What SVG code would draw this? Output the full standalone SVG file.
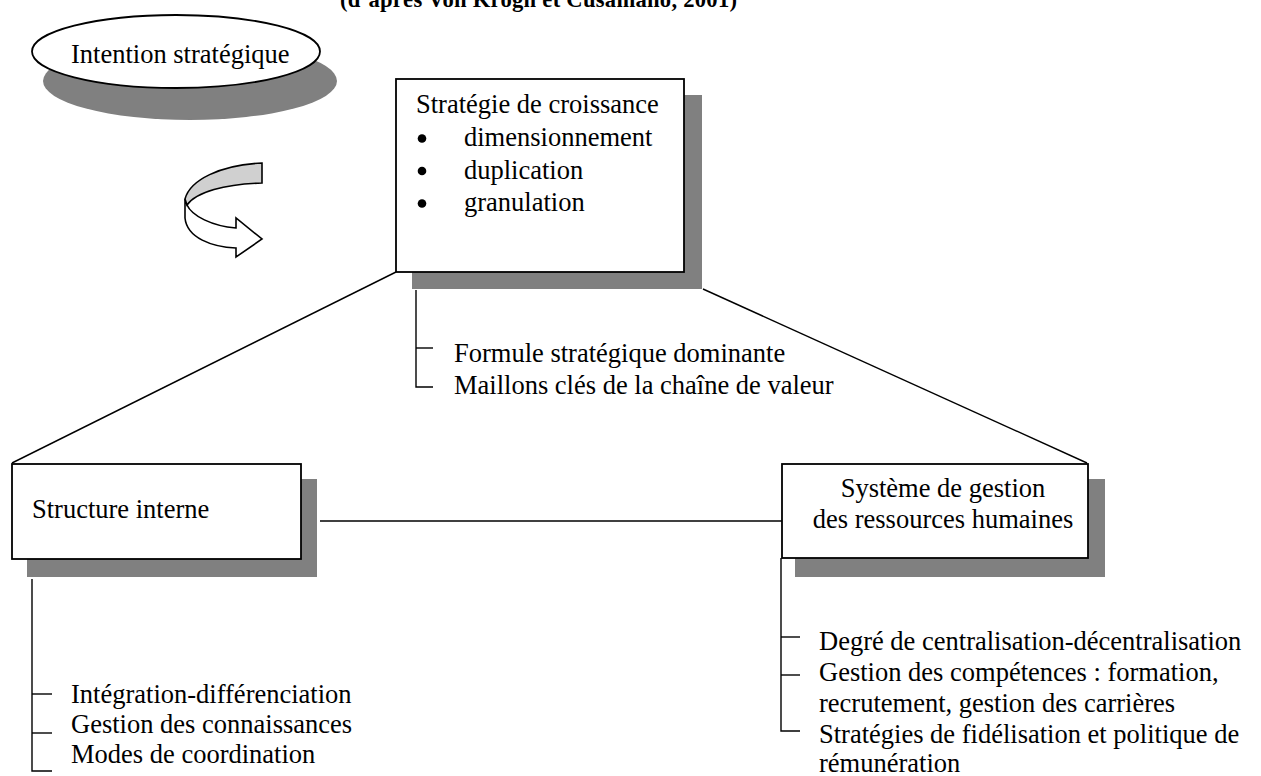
<svg xmlns="http://www.w3.org/2000/svg" width="1261" height="776" viewBox="0 0 1261 776">
<style>
text{font-family:"Liberation Serif","Times New Roman",serif;font-size:26.5px;fill:#000}
.title{font-weight:bold;font-size:22.6px}
.box{fill:#fff;stroke:#000;stroke-width:1.8}
.shadow{fill:#808080}
.conn{stroke:#000;stroke-width:1.4;fill:none}
</style>
<rect width="1261" height="776" fill="#fff"/>
<text class="title" x="340" y="7" textLength="397">(d’après Von Krogh et Cusamano, 2001)</text>

<g id="connectors">
<line class="conn" x1="396" y1="272" x2="12" y2="463"/>
<line class="conn" x1="703" y1="289" x2="1087" y2="463"/>
<line class="conn" x1="320" y1="521" x2="782" y2="521"/>
<polyline class="conn" points="416,290 416,387 433,387"/>
<line class="conn" x1="416" y1="348" x2="433" y2="348"/>
<polyline class="conn" points="32,579 32,771 52,771"/>
<line class="conn" x1="32" y1="694" x2="52" y2="694"/>
<line class="conn" x1="32" y1="733" x2="52" y2="733"/>
<polyline class="conn" points="781,558 781,731 800,731"/>
<line class="conn" x1="781" y1="637" x2="800" y2="637"/>
<line class="conn" x1="781" y1="675" x2="800" y2="675"/>
</g>

<g id="intention">
<ellipse class="shadow" cx="190" cy="81" rx="147" ry="39"/>
<ellipse class="box" cx="176" cy="51.5" rx="144" ry="36.5"/>
<text x="71" y="63">Intention stratégique</text>
</g>

<g id="curved-arrow" stroke="#000" stroke-width="1.6" stroke-linejoin="miter">
<path d="M185,199 L185,218 C187,238 212,247 236,248 L236,257 L262,239 L236,218 L236,228 C212,226 192,216 187,205 Z" fill="#fff"/>
<path d="M262,163 C220,165 190,180 185,199 L187,205 C196,192 225,184 262,183 Z" fill="#d0d0d0"/>
</g>

<g id="strategie">
<rect class="shadow" x="412" y="95" width="290" height="194"/>
<rect class="box" x="396" y="79" width="288" height="193"/>
<text x="416" y="113">Stratégie de croissance</text>
<circle cx="422" cy="138.5" r="4.3"/>
<text x="464" y="146">dimensionnement</text>
<circle cx="422" cy="171" r="4.3"/>
<text x="464" y="178.5">duplication</text>
<circle cx="422" cy="203.5" r="4.3"/>
<text x="464" y="211">granulation</text>
<text x="454" y="362">Formule stratégique dominante</text>
<text x="454" y="394">Maillons clés de la chaîne de valeur</text>
</g>

<g id="structure">
<rect class="shadow" x="27" y="479" width="290" height="98"/>
<rect class="box" x="12" y="464" width="289" height="95"/>
<text x="32" y="518">Structure interne</text>
<text x="71" y="703">Intégration-différenciation</text>
<text x="71" y="733">Gestion des connaissances</text>
<text x="71" y="763">Modes de coordination</text>
</g>

<g id="sgrh">
<rect class="shadow" x="795" y="479" width="310" height="98"/>
<rect class="box" x="782" y="464" width="306" height="94"/>
<text x="943" y="497" text-anchor="middle">Système de gestion</text>
<text x="943" y="528" text-anchor="middle">des ressources humaines</text>
<text x="819" y="650">Degré de centralisation-décentralisation</text>
<text x="819" y="681">Gestion des compétences : formation,</text>
<text x="819" y="712">recrutement, gestion des carrières</text>
<text x="819" y="743">Stratégies de fidélisation et politique de</text>
<text x="819" y="772">rémunération</text>
</g>
</svg>
